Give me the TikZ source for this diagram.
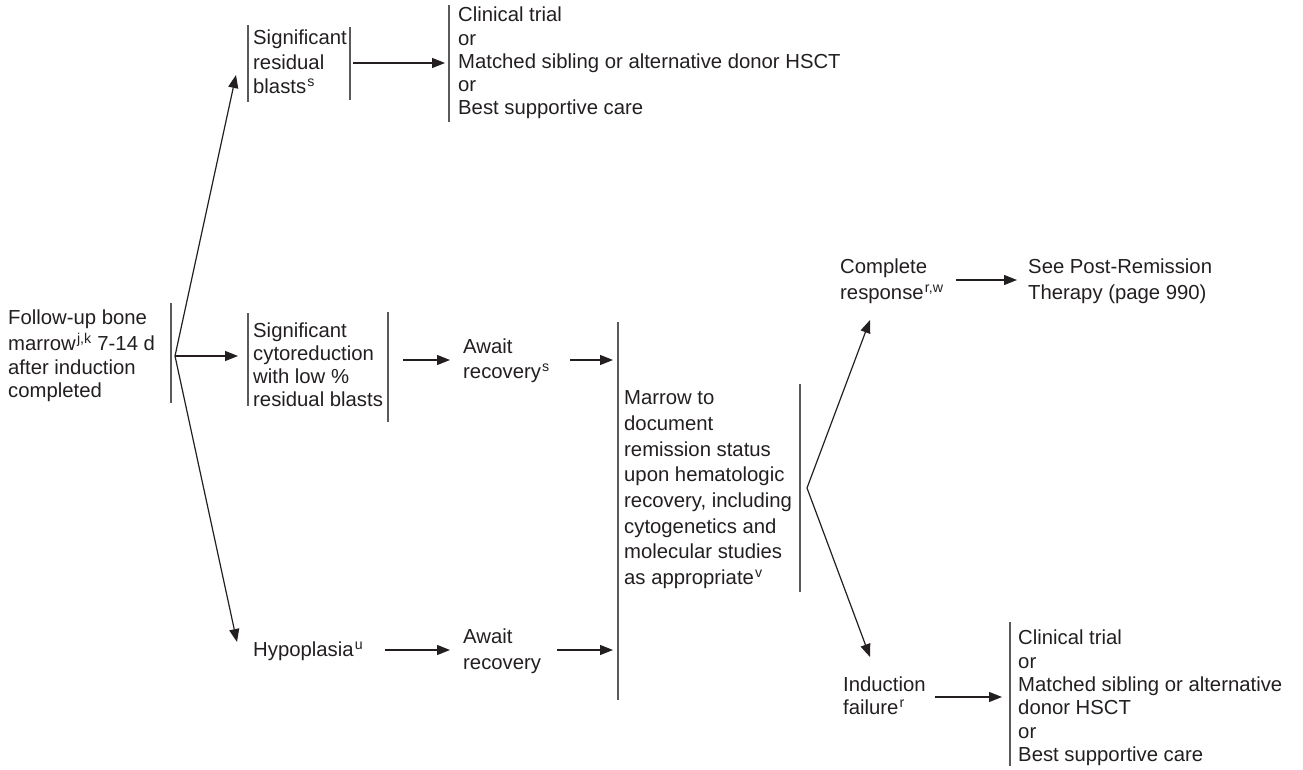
\documentclass[tikz,border=0pt]{standalone}
\usepackage{fontspec}
\setmainfont{Liberation Sans}
\usetikzlibrary{arrows.meta}
\newcommand{\ssup}[1]{\hspace{1.2pt}\textsuperscript{#1}}
\definecolor{ink}{HTML}{231F20}
\definecolor{barc}{HTML}{5A5A5C}
\begin{document}
\begin{tikzpicture}[x=1pt,y=-1pt,
  lbl/.style={inner sep=0pt, anchor=north west, align=left, text=ink,
    font=\fontsize{20.3}{#1}\selectfont},
  lbl/.default=23.5,
  barline/.style={draw=barc, line width=1.4pt},
  arr/.style={draw=ink, line width=1.2pt, -{Triangle[length=13pt,width=10pt]}},
  plain/.style={draw=ink, line width=1.2pt}]
\useasboundingbox (0,0) rectangle (1303,769);

% ---------- text nodes ----------
\node[lbl=23.6] (root) at (8,308) {\strut Follow-up bone\\marrow\ssup{j,k} 7-14 d\\after induction\\completed};
\node[lbl=24.5] (sigres) at (253,27.4) {\strut Significant\\residual\\blasts\ssup{s}};
\node[lbl=23.3] (optA) at (458,5.2) {\strut Clinical trial\\or\\Matched sibling or alternative donor HSCT\\or\\Best supportive care};
\node[lbl=23] (sigcyt) at (253,321.4) {\strut Significant\\cytoreduction\\with low \%\\residual blasts};
\node[lbl=25] (await1) at (463,336) {\strut Await\\recovery\ssup{s}};
\node[lbl=23.5] (hypo) at (253,640) {\strut Hypoplasia\ssup{u}};
\node[lbl=26] (await2) at (463,625.3) {\strut Await\\recovery};
\node[lbl=25.7] (marrow) at (624,386.5) {\strut Marrow to\\document\\remission status\\upon hematologic\\recovery, including\\cytogenetics and\\molecular studies\\as appropriate\ssup{v}};
\node[lbl=26] (cr) at (840,255.3) {\strut Complete\\response\ssup{r,w}};
\node[lbl=26] (post) at (1028,255.3) {\strut See Post-Remission\\Therapy (page 990)};
\node[lbl=23] (fail) at (843,675.4) {\strut Induction\\failure\ssup{r}};
\node[lbl=23.4] (optB) at (1018,628.1) {\strut Clinical trial\\or\\Matched sibling or alternative\\donor HSCT\\or\\Best supportive care};

% ---------- bars ----------
\draw[barline] (171,303) -- (171,403);
\draw[barline] (248,25) -- (248,102);
\draw[barline] (350,27) -- (350,100);
\draw[barline] (449,5) -- (449,122);
\draw[barline] (248,313) -- (248,406);
\draw[barline] (388,312) -- (388,422);
\draw[barline] (618,322) -- (618,700);
\draw[barline] (800,384) -- (800,592);
\draw[barline] (1010,622) -- (1010,766);

% ---------- connector coordinates ----------
\coordinate (rb) at (175,356);
\coordinate (rbUp) at (236,75);
\coordinate (rbMid) at (238,356);
\coordinate (rbDn) at (237,642);
\coordinate (mv) at (807,488);
\coordinate (mvUp) at (870,320);
\coordinate (mvDn) at (870,657);

% ---------- connectors ----------
\draw[arr] (rb) -- (rbUp);
\draw[arr] (rb) -- (rbMid);
\draw[arr] (rb) -- (rbDn);
\draw[arr] (353,63) -- (445,63);
\draw[arr] (403,360) -- (450,360);
\draw[arr] (570,360) -- (613,360);
\draw[arr] (385,650) -- (450,650);
\draw[arr] (557,650) -- (613,650);
\draw[arr] (mv) -- (mvUp);
\draw[arr] (mv) -- (mvDn);
\draw[arr] (956,280) -- (1017,280);
\draw[arr] (935,697) -- (1002,697);
\end{tikzpicture}
\end{document}
